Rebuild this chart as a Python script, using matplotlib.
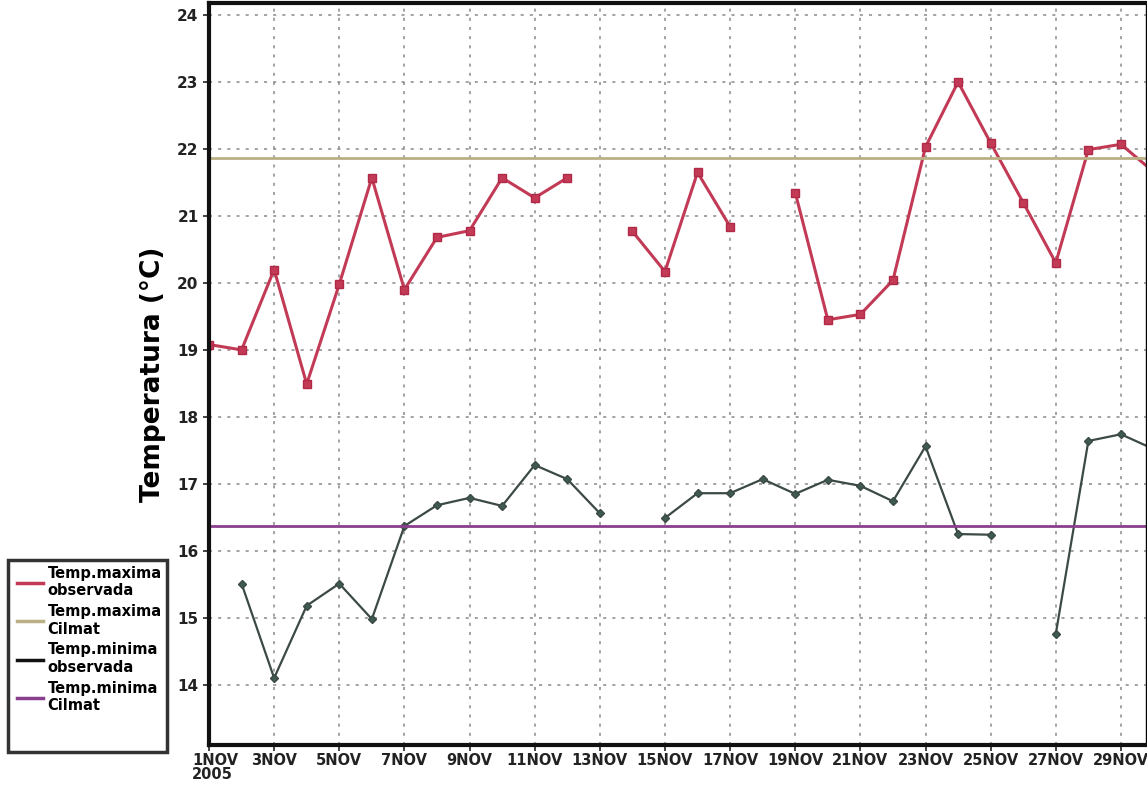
import matplotlib
matplotlib.use('Agg')
import matplotlib.pyplot as plt
from matplotlib.patches import Rectangle
from matplotlib.lines import Line2D
import numpy as np

nan = np.nan

# dias de noviembre 2005
dias = np.arange(1, 31)

# temperatura maxima observada (°C)
tmax_obs = [19.08, 19.00, 20.20, 18.49, 19.98, 21.57, 19.90, 20.68, 20.78, 21.57,
            21.27, 21.57, nan, 20.77, 20.17, 21.65, 20.84, nan, 21.35, 19.45,
            19.53, 20.04, 22.03, 23.00, 22.09, 21.20, 20.30, 21.99, 22.07, 21.66]

# temperatura minima observada (°C)
tmin_obs = [nan, 15.51, 14.10, 15.18, 15.51, 14.98, 16.37, 16.68, 16.79, 16.67,
            17.28, 17.07, 16.56, nan, 16.49, 16.86, 16.86, 17.07, 16.85, 17.06,
            16.97, 16.74, 17.56, 16.25, 16.24, nan, 14.76, 17.64, 17.74, 17.52]

# climatologia
tmax_clim = [21.87] * 30
tmin_clim = [16.37] * 30

tick_dias = np.arange(1, 30, 2)
tick_labels = ['1NOV\n2005'] + [f'{d}NOV' for d in tick_dias[1:]]
yticks = np.arange(14, 25)

col_max = '#c23a55'
col_maxc = '#b9b184'
col_min = '#3c4a45'
col_minc = '#8a3f8e'

fig = plt.figure(figsize=(11.47, 7.87), dpi=100)
ax = fig.add_axes([209 / 1147, 1 - 745 / 787, (1146 - 209) / 1147, (745 - 3) / 787])

ax.plot(dias, tmax_obs, '-s', color=col_max, lw=2.2, ms=6, mec='#b02a48', mfc=col_max)
ax.plot(dias, tmax_clim, '-', color=col_maxc, lw=2)
ax.plot(dias, tmin_obs, '-D', color=col_min, lw=1.6, ms=4.5, mfc='#3f5a4e')
ax.plot(dias, tmin_clim, '-', color=col_minc, lw=2)

ax.set_xlim(1, 29.77)
ax.set_ylim(13.1, 24.18)
ax.set_xticks(tick_dias)
ax.set_xticklabels(tick_labels, fontsize=10.5, fontweight='bold', linespacing=0.85)
for lab in ax.get_xticklabels()[:1]:
    lab.set_ha('left')
    lab.set_x(lab.get_position()[0])
ax.set_yticks(yticks)
ax.set_yticklabels([str(v) for v in yticks], fontsize=11, fontweight='bold')
ax.tick_params(axis='both', direction='out', length=4, width=1.2, colors='#222222')
ax.tick_params(axis='x', pad=2)

# la primera etiqueta empieza un poco antes de la marca
import matplotlib.transforms as mtransforms
offset = mtransforms.ScaledTranslation(-17 / 100, 0, fig.dpi_scale_trans)
first = ax.get_xticklabels()[0]
first.set_transform(first.get_transform() + offset)

ax.grid(True, color='#8a8a8a', linestyle=(0, (2, 4)), lw=1.1)

for side in ['left', 'bottom', 'top']:
    ax.spines[side].set_linewidth(3)
    ax.spines[side].set_color('#111111')
ax.spines['right'].set_linewidth(1)

ax.set_ylabel('Temperatura (°C)', fontsize=19, fontweight='bold', labelpad=8)

# leyenda
fig.patches.append(Rectangle((8 / 1147, 1 - 752 / 787), 159 / 1147, 192 / 787,
                             transform=fig.transFigure, fill=False, lw=2.5,
                             edgecolor='#333333'))
handles = [Line2D([], [], color=c, lw=2.5) for c in (col_max, col_maxc, '#111111', col_minc)]
fig.legend(handles,
           ['Temp.maxima\nobservada', 'Temp.maxima\nCilmat',
            'Temp.minima\nobservada', 'Temp.minima\nCilmat'],
           loc='upper left', bbox_to_anchor=(17 / 1147, 1 - 566 / 787),
           frameon=False, prop={'weight': 'bold', 'size': 10.5},
           handlelength=1.8, handletextpad=0.3, labelspacing=0.4,
           borderaxespad=0, borderpad=0)

fig.savefig('out.png', dpi=100)
